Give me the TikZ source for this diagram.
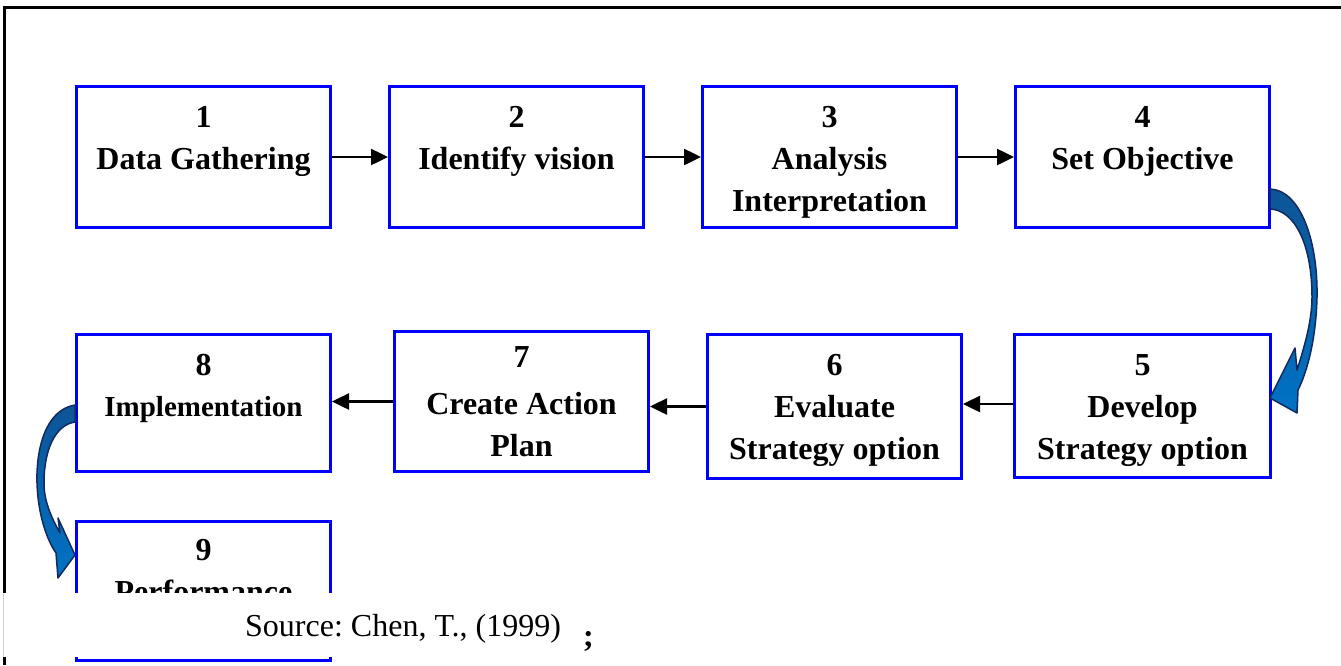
\documentclass[tikz,border=0pt]{standalone}
\usepackage{fontspec}
\setmainfont{Liberation Serif}
\usetikzlibrary{positioning,arrows.meta}
\definecolor{boxblue}{RGB}{0,0,255}
\definecolor{arrowdark}{RGB}{14,84,150}
\definecolor{arrowlight}{RGB}{0,114,196}
\definecolor{arrowline}{RGB}{18,42,96}
\tikzset{
  stepbox/.style={draw=boxblue, line width=3pt, minimum width=254pt, minimum height=141pt, inner sep=0pt},
  steptext/.style={anchor=north, yshift=-21pt, align=center, inner sep=0pt,
    font=\fontsize{32}{42}\selectfont\bfseries},
  flow/.style={-{Triangle[length=17pt,width=16pt]}, line width=2.5pt},
  bendarrow/.style={draw=arrowline, line width=1.5pt, line join=round,
    top color=arrowdark, bottom color=arrowlight}
}
\frenchspacing

\begin{document}
\begin{tikzpicture}[x=1pt, y=-1pt]
  \useasboundingbox (0,0) rectangle (1341,665);
  % frame
  \draw[line width=3pt] (4,665) -- (4,7) -- (1341,7);

  % first row
  \node[stepbox] (b1) at (203.5,157) {};
  \node[stepbox] (b2) [right=56pt of b1] {};
  \node[stepbox] (b3) [right=56pt of b2] {};
  \node[stepbox] (b4) [right=56pt of b3] {};
  % second row
  \node[stepbox, minimum width=256pt, minimum height=143pt] (b5) at (1142.5,406) {};
  \node[stepbox, minimum height=144pt] (b6) at (834.5,406.5) {};
  \node[stepbox, minimum height=140pt] (b7) at (521.5,401.5) {};
  \node[stepbox, minimum height=137pt] (b8) at (203.5,403) {};
  % last box
  \node[stepbox, minimum height=139pt] (b9) at (203.5,591) {};

  \node[steptext] (t1) at (b1.north) {1\\Data Gathering};
  \node[steptext] (t2) at (b2.north) {2\\Identify vision};
  \node[steptext] (t3) at (b3.north) {3\\Analysis\\Interpretation};
  \node[steptext] (t4) at (b4.north) {4\\Set Objective};
  \node[steptext] (t5) at (b5.north) {5\\Develop\\Strategy option};
  \node[steptext] (t6) at (b6.north) {6\\Evaluate\\Strategy option};
  \node[steptext, yshift=5pt] (t7) at (b7.north) {7\\[5pt]Create Action\\Plan};
  \node[steptext] (t8) at (b8.north) {8\\[-1pt]{\fontsize{29}{41}\selectfont Implementation}};
  \node[steptext, yshift=2pt] (t9) at (b9.north) {9\\Performance};

  \path[flow]
    (b1) edge (b2)
    (b2) edge (b3)
    (b3) edge (b4);
  \draw[flow] ([yshift=2pt]b5.west) -- ([yshift=2pt]b5.west -| b6.east);
  \draw[flow] (b6.west) -- (b6.west -| b7.east);
  \draw[flow] (b7.west) -- (b7.west -| b8.east);

  % curved block arrows
  \path[bendarrow] (1270,189) .. controls (1300,190) and (1318,240) .. (1317,297)
    .. controls (1316,340) and (1307,372) .. (1298,390) -- (1297,413) -- (1270,398)
    -- (1295,348) -- (1297,370) .. controls (1305,345) and (1312,320) .. (1312,297)
    .. controls (1312,245) and (1295,210) .. (1270,209) -- cycle;
  \path[bendarrow] (75,405) .. controls (45,410) and (36,450) .. (37,483)
    .. controls (38,515) and (47,540) .. (56,553) -- (58,578) -- (75,555)
    -- (58,518) -- (60,533) .. controls (50,515) and (44,500) .. (44,483)
    .. controls (44,450) and (55,425) .. (75,422) -- cycle;

  % source strip
  \fill[white] (0,593) rectangle (1341,657);
  \draw[black!18, line width=1pt] (3.5,593) -- (3.5,657);
  \node[anchor=base west, inner sep=0pt, font=\fontsize{32}{38}\selectfont] (src) at (245,636) {Source: Chen, T., (1999)};
  \node[anchor=base west, inner sep=0pt, font=\fontsize{32}{38}\selectfont\bfseries] (semi) at (583,646) {;};
\end{tikzpicture}
\end{document}
